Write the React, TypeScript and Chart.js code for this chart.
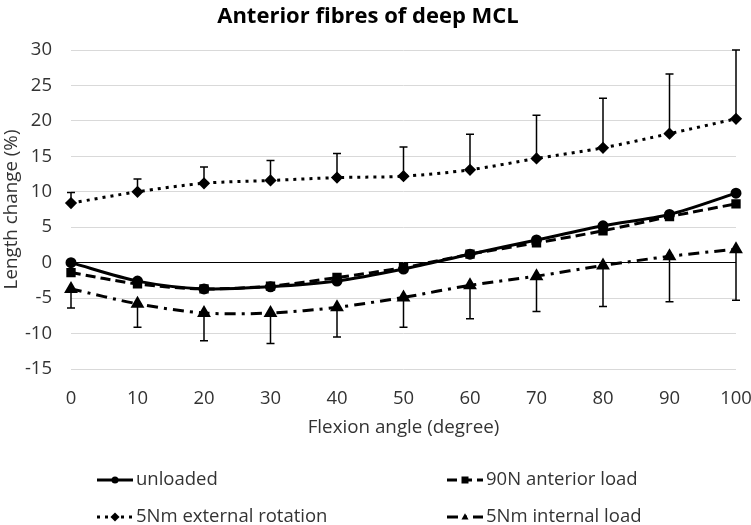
import React, { useEffect, useRef } from "react";
import { Chart, registerables } from "chart.js";

Chart.register(...registerables);

const TITLE = "Anterior fibres of deep MCL";
const X_TITLE = "Flexion angle (degree)";
const Y_TITLE = "Length change (%)";

const angles = [0, 10, 20, 30, 40, 50, 60, 70, 80, 90, 100];
const seriesNames = ["unloaded", "90N anterior load", "5Nm external rotation", "5Nm internal load"];

const unloaded = [0, -2.6, -3.7, -3.4, -2.6, -0.9, 1.2, 3.2, 5.2, 6.8, 9.8];
const anterior90N = [-1.4, -3.0, -3.7, -3.3, -2.1, -0.7, 1.2, 2.8, 4.5, 6.5, 8.3];
const externalRot = [8.4, 10.0, 11.2, 11.6, 12.0, 12.2, 13.1, 14.7, 16.2, 18.2, 20.3];
const externalErrUp = [1.5, 1.8, 2.3, 2.8, 3.4, 4.1, 5.0, 6.1, 7.0, 8.4, 9.7];
const internalLoad = [-3.7, -5.8, -7.1, -7.1, -6.3, -4.9, -3.2, -1.9, -0.4, 0.9, 1.9];
const internalErrDown = [2.7, 3.3, 3.9, 4.3, 4.2, 4.2, 4.7, 5.0, 5.8, 6.4, 7.2];

const yMin = -15;
const yMax = 30;
const yStep = 5;

const FONT = "'Open Sans', sans-serif";
const TEXT_COLOR = "#333333";

function drawMarker(ctx: CanvasRenderingContext2D, style: string, r: number, x: number, y: number) {
  ctx.beginPath();
  if (style === "circle") {
    ctx.arc(x, y, r, 0, Math.PI * 2);
  } else if (style === "rect") {
    ctx.rect(x - r, y - r, 2 * r, 2 * r);
  } else if (style === "rectRot") {
    ctx.moveTo(x, y - r * 1.3);
    ctx.lineTo(x + r * 1.3, y);
    ctx.lineTo(x, y + r * 1.3);
    ctx.lineTo(x - r * 1.3, y);
    ctx.closePath();
  } else if (style === "triangle") {
    ctx.moveTo(x, y - r * 1.1);
    ctx.lineTo(x + r, y + r * 0.7);
    ctx.lineTo(x - r, y + r * 0.7);
    ctx.closePath();
  }
  ctx.fill();
}

const errorBarPlugin = {
  id: "errorBars",
  afterDatasetsDraw(chart: any) {
    const ctx = chart.ctx;
    const yScale = chart.scales.y;
    chart.data.datasets.forEach((ds: any, di: number) => {
      const meta = chart.getDatasetMeta(di);
      const up: number[] | undefined = ds.errUp;
      const down: number[] | undefined = ds.errDown;
      if (!up && !down) return;
      ctx.save();
      ctx.strokeStyle = "#000";
      ctx.lineWidth = 1.5;
      ctx.setLineDash([]);
      meta.data.forEach((pt: any, i: number) => {
        const v = ds.data[i];
        const x = pt.x;
        const y0 = yScale.getPixelForValue(v);
        const ends: number[] = [];
        if (up) ends.push(yScale.getPixelForValue(v + up[i]));
        if (down) ends.push(yScale.getPixelForValue(v - down[i]));
        ends.forEach((ye) => {
          ctx.beginPath();
          ctx.moveTo(x, y0);
          ctx.lineTo(x, ye);
          ctx.moveTo(x - 4, ye);
          ctx.lineTo(x + 4, ye);
          ctx.stroke();
        });
      });
      ctx.restore();
    });
  },
};

const legendPlugin = {
  id: "customLegend",
  afterDraw(chart: any) {
    const ctx = chart.ctx;
    const slots = [
      { x: 97, y: 480 },
      { x: 447, y: 480 },
      { x: 97, y: 517 },
      { x: 447, y: 517 },
    ];
    chart.data.datasets.forEach((ds: any, i: number) => {
      const s = slots[i];
      const w = 36;
      ctx.save();
      ctx.strokeStyle = "#000";
      ctx.lineWidth = ds.borderWidth;
      ctx.setLineDash(ds.borderDash || []);
      ctx.beginPath();
      ctx.moveTo(s.x, s.y);
      ctx.lineTo(s.x + w, s.y);
      ctx.stroke();
      ctx.setLineDash([]);
      ctx.fillStyle = "#000";
      drawMarker(ctx, ds.pointStyle, 3.5, s.x + w / 2, s.y);
      ctx.fillStyle = TEXT_COLOR;
      ctx.font = `18.5px ${FONT}`;
      ctx.textBaseline = "middle";
      ctx.textAlign = "left";
      ctx.fillText(ds.label, s.x + w + 3, s.y);
      ctx.restore();
    });
  },
};

export default function App() {
  const ref = useRef<HTMLCanvasElement | null>(null);

  useEffect(() => {
    if (!ref.current) return;
    const common = {
      borderColor: "#000",
      backgroundColor: "#000",
      pointBackgroundColor: "#000",
      pointBorderColor: "#000",
      borderWidth: 3,
      tension: 0.3,
      fill: false,
    };
    const chart = new Chart(ref.current, {
      type: "line",
      data: {
        labels: angles.map(String),
        datasets: [
          { ...common, label: seriesNames[0], data: unloaded, pointStyle: "circle", pointRadius: 4 },
          { ...common, label: seriesNames[1], data: anterior90N, pointStyle: "rect", pointRadius: 4.5, borderDash: [10, 5] },
          { ...common, label: seriesNames[2], data: externalRot, pointStyle: "rectRot", pointRadius: 4, borderDash: [3, 5], errUp: externalErrUp } as any,
          { ...common, label: seriesNames[3], data: internalLoad, pointStyle: "triangle", pointRadius: 5, borderDash: [11, 6, 3, 6], errDown: internalErrDown } as any,
        ],
      },
      options: {
        responsive: false,
        animation: false,
        layout: { padding: { top: 0, left: 0, right: 15, bottom: 85 } },
        plugins: {
          legend: { display: false },
          tooltip: { enabled: false },
          title: {
            display: true,
            text: TITLE,
            color: "#000",
            font: { family: FONT, size: 22, weight: "bold" },
            padding: { top: 4, bottom: 19.6 },
          },
        },
        scales: {
          x: {
            type: "category",
            offset: false,
            grid: { display: false },
            border: { display: false },
            ticks: { color: TEXT_COLOR, font: { family: FONT, size: 18.5 }, padding: 11, maxRotation: 0 },
            title: { display: true, text: X_TITLE, color: TEXT_COLOR, font: { family: FONT, size: 18.8 }, padding: { top: 0, bottom: 1 } },
            afterFit(scale: any) {
              scale.height = 71;
              scale.paddingLeft = 0;
              scale.paddingRight = 0;
            },
          },
          y: {
            min: yMin,
            max: yMax,
            ticks: { stepSize: yStep, color: TEXT_COLOR, font: { family: FONT, size: 18.5 }, padding: 19 },
            grid: {
              drawTicks: false,
              color: (c: any) => (c.tick && c.tick.value === 0 ? "#000" : "#d9d9d9"),
              lineWidth: 1,
            },
            border: { display: false },
            title: { display: true, text: Y_TITLE, color: TEXT_COLOR, font: { family: FONT, size: 18.8 }, padding: { top: 0, bottom: 0 } },
            afterFit(scale: any) {
              scale.width = 71;
              scale.paddingTop = 0;
              scale.paddingBottom = 0;
            },
          },
        },
      },
      plugins: [errorBarPlugin, legendPlugin],
    });
    return () => chart.destroy();
  }, []);

  return (
    <div style={{ position: "absolute", left: 0, top: 0, width: 751, height: 525, background: "#fff" }}>
      <canvas ref={ref} width={751} height={525} style={{ display: "block" }} />
    </div>
  );
}
